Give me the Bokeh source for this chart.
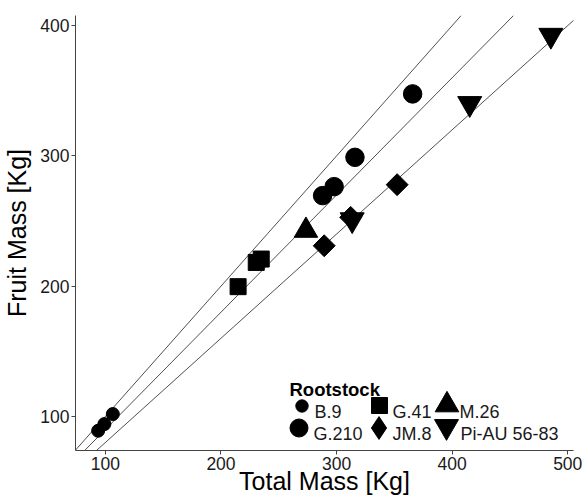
import math
from bokeh.plotting import figure
from bokeh.models import Range1d, Slope, Legend, LegendItem, FixedTicker, Label
from bokeh.embed import file_html
from bokeh.resources import INLINE

# ---- data ----
rootstocks = ["B.9", "G.210", "G.41", "JM.8", "M.26", "Pi-AU 56-83"]
b9_total = [93.7, 99.1, 106.4]
b9_fruit = [89.0, 94.1, 101.8]
g210_total = [287.9, 297.9, 315.9, 365.8]
g210_fruit = [269.5, 276.4, 298.9, 347.6]
g41_total = [214.8, 230.5, 234.8]
g41_fruit = [199.6, 218.2, 220.8]
jm8_total = [289.3, 312.2, 352.4]
jm8_fruit = [231.0, 252.8, 277.9]
m26_total = [273.5]
m26_fruit = [242.7]
piau_total = [313.5, 415.2, 485.4]
piau_fruit = [251.0, 340.2, 392.6]
ratio_lines = [1.0, 0.9, 0.8]
x_ticks = [100, 200, 300, 400, 500]
y_ticks = [100, 200, 300, 400]
legend_title = "Rootstock"

all_x = b9_total + g210_total + g41_total + jm8_total + m26_total + piau_total
all_y = b9_fruit + g210_fruit + g41_fruit + jm8_fruit + m26_fruit + piau_fruit


def expand(vals, f=0.05):
    lo, hi = min(vals), max(vals)
    d = (hi - lo) * f
    return lo - d, hi + d


FONT = "Liberation Sans"
W, H = 586, 498
FL, FR, FT, FB = 74, 573, 15, 450   # frame edges on the page

p = figure(width=W, height=H, output_backend="svg", toolbar_location=None,
           x_range=Range1d(*expand(all_x)), y_range=Range1d(*expand(all_y)),
           min_border_left=FL, min_border_right=W - FR, min_border_top=FT, min_border_bottom=H - FB)
p.outline_line_color = None
p.xgrid.visible = False
p.ygrid.visible = False
p.background_fill_color = "white"
p.border_fill_color = "white"

for k in ratio_lines:
    p.add_layout(Slope(gradient=k, y_intercept=0, line_color="#3c3c3c", line_width=0.9, level="underlay"))

r_b9 = p.scatter(b9_total, b9_fruit, marker="circle", size=13, color="black")
r_g210 = p.scatter(g210_total, g210_fruit, marker="circle", size=18.5, color="black")
r_g41 = p.scatter(g41_total, g41_fruit, marker="square", size=16, color="black")
r_jm8 = p.scatter(jm8_total, jm8_fruit, marker="square", size=15.5, angle=math.pi / 4, color="black")
r_m26 = p.scatter(m26_total, m26_fruit, marker="triangle", size=23.5, color="black")
r_piau = p.scatter(piau_total, piau_fruit, marker="inverted_triangle", size=24, color="black")
# hidden twin of the JM.8 points, only used for its legend key
# (legend keys ignore the marker angle, so the key uses the diamond marker)
r_jm8_key = p.scatter(jm8_total, jm8_fruit, marker="diamond", size=23, color="black", visible=False)

for ax in (p.xaxis[0], p.yaxis[0]):
    ax.axis_line_color = "#444444"
    ax.axis_line_width = 1
    ax.major_tick_line_color = "#444444"
    ax.major_tick_in = 0
    ax.major_tick_out = 4
    ax.minor_tick_line_color = None
    ax.major_label_text_font = FONT
    ax.major_label_text_font_size = "17.5px"
    ax.major_label_text_color = "#1a1a1a"
    ax.axis_label_text_font = FONT
    ax.axis_label_text_font_size = "25px"
    ax.axis_label_text_font_style = "normal"
    ax.axis_label_text_color = "black"

p.xaxis.ticker = FixedTicker(ticks=x_ticks)
p.yaxis.ticker = FixedTicker(ticks=y_ticks)
p.xaxis.axis_label = "Total Mass [Kg]"
p.yaxis.axis_label = "Fruit Mass [Kg]"
p.xaxis.major_label_standoff = 2
p.xaxis.axis_label_standoff = -6
p.yaxis.major_label_standoff = 2
p.yaxis.axis_label_standoff = 6

# ---- legend: one key per rootstock, laid out in 3 columns x 2 rows ----
key_renderers = [r_b9, r_g210, r_g41, r_jm8_key, r_m26, r_piau]
key_boxes = [31, 45, 40, 57, 59, 60]            # glyph box -> marker size = 0.4 * box
key_centers = [(300, 405), (297, 427), (378, 405), (377, 427), (445, 404), (445, 426)]
label_pos = [(313, 411), (312, 433), (391, 411), (391, 433), (458, 411), (459, 433)]

for name, rend, box, (cx, cy), (lx, ly) in zip(rootstocks, key_renderers, key_boxes, key_centers, label_pos):
    lg = Legend(items=[LegendItem(label=" ", renderers=[rend])],
                location=(cx - box / 2 - FL, FB - (cy + box / 2)),
                glyph_width=box, glyph_height=box, label_width=0, label_standoff=0,
                label_text_font_size="1px", padding=0, margin=0, spacing=0,
                border_line_color=None, background_fill_alpha=0, inactive_fill_alpha=0)
    p.add_layout(lg, "center")
    p.add_layout(Label(x=lx - FL, y=FB - ly, x_units="screen", y_units="screen", text=name,
                       text_font=FONT, text_font_size="18px", text_color="#1a1a1a",
                       text_baseline="alphabetic", text_align="left"))

p.add_layout(Label(x=288 - FL, y=FB - 388.5, x_units="screen", y_units="screen", text=legend_title,
                   text_font=FONT, text_font_size="18.5px", text_font_style="bold",
                   text_color="black", text_baseline="alphabetic", text_align="left"))

open("out.html", "w").write(file_html(p, INLINE))
